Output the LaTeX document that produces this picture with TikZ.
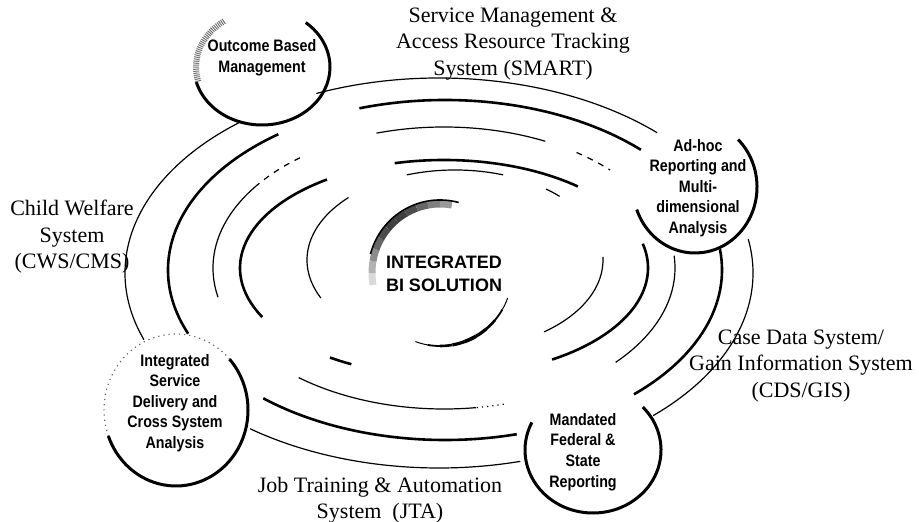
\documentclass[tikz,border=0pt]{standalone}
\usepackage{fontspec}
\setmainfont{Liberation Serif}
\setsansfont{Liberation Sans}
\newfontfamily\narrowsans[FakeStretch=0.86]{Liberation Sans}

\tikzset{
  ring/.style={line width=0.6pt},
  ringthick/.style={line width=1.3pt},
  rim/.style={line width=1.5pt},
  sysname/.style={font=\fontsize{11}{13.25}\selectfont, align=center, inner sep=0pt},
  bubble/.style={font=\narrowsans\bfseries\fontsize{8.3}{10.3}\selectfont, align=center, inner sep=0pt},
  hub/.style={font=\sffamily\bfseries\fontsize{9}{11.5}\selectfont, align=center, inner sep=0pt}
}
% elliptic arc round a named centre
\newcommand\ringarc[5]{(#1) ++(#4:#2 and #3) arc[start angle=#4, end angle=#5, x radius=#2, y radius=#3]}

\begin{document}
\begin{tikzpicture}[x=0.5pt,y=-0.5pt]
    \useasboundingbox (0,0) rectangle (919,522);

    % ring centres
    \coordinate (r1) at (439,273);
    \coordinate (r2) at (445,270);
    \coordinate (r3) at (444,268);
    \coordinate (r4) at (444,268);
    \coordinate (r5) at (455,260);

    % outer ring
    \draw[ring] \ringarc{r1}{314}{195}{160}{231};
    \draw[ring] \ringarc{r1}{314}{195}{247}{314};
    \draw[ring] \ringarc{r1}{314}{195}{-10}{47};
    \draw[ring] \ringarc{r1}{314}{195}{75}{127};
    % second ring
    \draw[ringthick] \ringarc{r2}{277}{170}{158}{233};
    \draw[ringthick] \ringarc{r2}{277}{170}{252}{315};
    \draw[ringthick] \ringarc{r2}{277}{170}{-7}{47};
    \draw[ringthick] \ringarc{r2}{277}{170}{75}{131};
    % third ring
    \draw[ring] \ringarc{r3}{231}{141}{168}{215};
    \draw[ring,dashed] \ringarc{r3}{231}{141}{215}{232};
    \draw[ring] \ringarc{r3}{231}{141}{253}{296};
    \draw[ring,dashed] \ringarc{r3}{231}{141}{305}{316};
    \draw[ring] \ringarc{r3}{231}{141}{-5}{42};
    \draw[ring] \ringarc{r3}{231}{141}{82}{129};
    \draw[ring,dotted] \ringarc{r3}{231}{141}{75}{82};
    % fourth ring
    \draw[ringthick] \ringarc{r4}{204}{108}{153}{235};
    \draw[ringthick] \ringarc{r4}{204}{108}{117}{124};
    \draw[ringthick] \ringarc{r4}{204}{108}{256}{311};
    \draw[ringthick] \ringarc{r4}{204}{108}{-13}{58};
    % inner ring
    \draw[ring] \ringarc{r5}{148}{90}{155}{224};
    \draw[ring] \ringarc{r5}{148}{90}{251}{289};
    \draw[ring] \ringarc{r5}{148}{90}{308}{315};
    \draw[ring] \ringarc{r5}{148}{90}{-2}{53};

    % centre
    \coordinate (hubc) at (440,273);
    \foreach \a/\c in {170/15,180/30,190/45,200/60,210/70,220/75,230/75,240/70,250/60,260/50,270/40}
        \draw[line width=3.5pt, black!\c] \ringarc{hubc}{68}{69}{\a}{\a+10};
    \draw[line width=0.8pt] \ringarc{hubc}{72}{73}{195}{285};
    \foreach \a/\w in {20/0.5,30/0.9,40/1.3,50/1.6,60/1.8,70/1.6,80/1.3,90/0.9,100/0.5}
        \draw[line width=\w pt] \ringarc{hubc}{72}{73}{\a}{\a+10};
    \node[hub] (bi) at (444,274) {INTEGRATED\\BI SOLUTION};

    % bubbles
    \coordinate (obmc) at (262,67);
    \draw[rim] \ringarc{obmc}{68}{58}{-50}{165};
    \draw[line width=3pt, black!55, dash pattern=on 0.5pt off 0.5pt] \ringarc{obmc}{66}{56}{165}{235};
    \node[bubble] (obm) at (262,58) {Outcome Based\\Management};

    \coordinate (adhocc) at (695,187);
    \draw[rim] \ringarc{adhocc}{62}{66}{-46}{160};
    \node[bubble] (adhoc) at (698,188) {Ad-hoc\\Reporting and\\Multi-\\dimensional\\Analysis};

    \coordinate (isdc) at (176,410);
    \draw[rim] \ringarc{isdc}{72}{76}{-42}{160};
    \draw[ring, dotted, black!60] \ringarc{isdc}{72}{76}{160}{318};
    \node[bubble] (isd) at (175,403) {Integrated\\Service\\Delivery and\\Cross System\\Analysis};

    \coordinate (mfsc) at (593,450);
    \draw[rim] \ringarc{mfsc}{68}{63}{-43}{206};
    \node[bubble] (mfs) at (583,452) {Mandated\\Federal \&\\State\\Reporting};

    % systems
    \node[sysname] (smart) at (513,44) {Service Management \&\\Access Resource Tracking\\System (SMART)};
    \node[sysname] (cws) at (72,237) {Child Welfare\\System\\(CWS/CMS)};
    \node[sysname] (cds) at (801,366) {Case Data System/\\Gain Information System\\(CDS/GIS)};
    \node[sysname] (jta) at (380,500) {Job Training \& Automation\\System\ \ (JTA)};
\end{tikzpicture}
\end{document}
